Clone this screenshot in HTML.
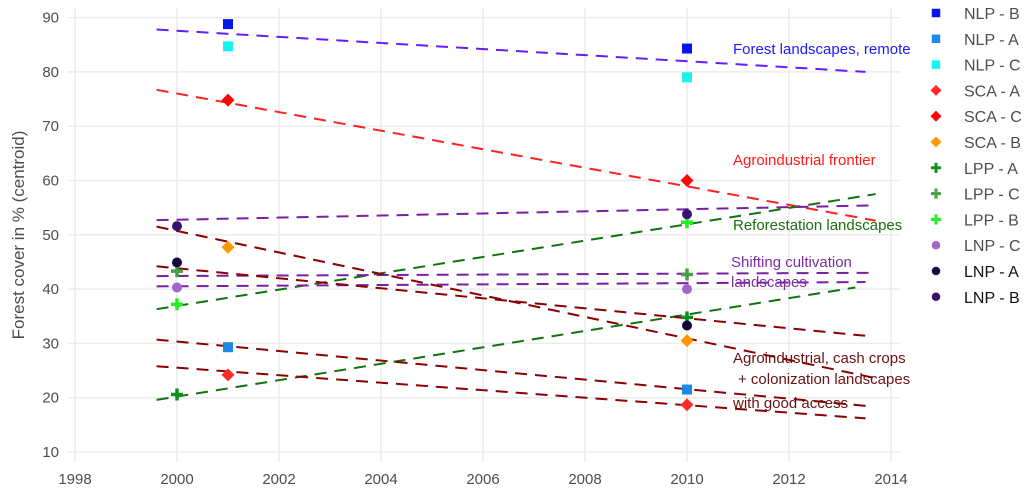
<!DOCTYPE html>
<html><head><meta charset="utf-8"><style>
body{margin:0;background:#fff;}
svg{display:block;font-family:"Liberation Sans",sans-serif;}
</style></head><body>
<svg id="chart" width="1024" height="489"></svg>
<script>
const years=[2000,2001,2010];
const seriesNames=["NLP - B","NLP - A","NLP - C","SCA - A","SCA - C","SCA - B","LPP - A","LPP - C","LPP - B","LNP - C","LNP - A","LNP - B"];
const seriesColors=["#0a14f0","#1e88e5","#19f0f0","#ff2a2a","#ff0505","#ff9800","#0f8f1e","#43a047","#22ee22","#a266c8","#16063d","#3c0f6e"];
const seriesShapes=["sq","sq","sq","di","di","di","pl","pl","pl","ci","ci","ci"];
const pointYear=[2001,2001,2001,2001,2001,2001,2000,2000,2000,2000,2000,2000];
const valuesStart=[88.8,29.3,84.7,24.2,74.8,47.7,20.6,43.3,37.2,40.3,44.9,51.6];
const valuesEnd=[84.3,21.5,79.0,18.7,60.0,30.5,34.8,42.7,52.3,40.0,33.3,53.8];
const trendX0=[1999.6,1999.6,1999.6,1999.6,1999.6,1999.6,1999.6,1999.6,1999.6,1999.6];
const trendX1=[2013.5,2013.7,2013.7,2013.3,2013.6,2013.6,2013.5,2013.7,2013.5,2013.5];
const trendY0=[87.8,76.7,36.3,19.6,52.7,42.4,40.5,51.5,44.2,30.7];
const trendY1=[80.0,52.6,57.5,40.3,55.4,43.0,41.3,23.6,31.4,18.5];
const trendColors=["#6a1aff","#ff2020","#13720f","#13720f","#7a1fa2","#7a1fa2","#7a1fa2","#8b0000","#8b0000","#8b0000"];
const trendY0b=[25.8];const trendY1b=[16.2];
const xTicks=[1998,2000,2002,2004,2006,2008,2010,2012,2014];
const yTicks=[10,20,30,40,50,60,70,80,90];
const labels=["Forest landscapes, remote","Agroindustrial frontier","Reforestation landscapes","Shifting cultivation","landscapes","Agroindustrial, cash crops","+ colonization landscapes","with good access"];
const labelColors=["#1a1aff","#ff1a1a","#1b6e10","#7b2d9e","#7b2d9e","#6b1212","#6b1212","#6b1212"];
const labelPos=[[733,54],[733,165],[733,230],[731,267],[731,287],[733,363],[738,384],[733,408]];

const X=y=>177+51*(y-2000);
const Y=v=>452-(v-10)*5.43;
const svg=document.getElementById('chart');
const NS='http://www.w3.org/2000/svg';
function mk(t,a,p){const e=document.createElementNS(NS,t);for(const k in a)e.setAttribute(k,a[k]);(p||svg).appendChild(e);return e;}

xTicks.forEach(t=>{
 const l=mk('line',{x1:X(t),x2:X(t),y1:8,y2:462,stroke:'#ebebeb','stroke-width':1.5});
 
 
 const tx=mk('text',{x:X(t),y:484,'text-anchor':'middle','font-size':15,fill:'#4d4d4d'});tx.textContent=t;
 
 
});
yTicks.forEach(t=>{
 const l=mk('line',{x1:68,x2:900,y1:Y(t),y2:Y(t),stroke:'#ebebeb','stroke-width':1.5});
 
 
 const tx=mk('text',{x:59,y:Y(t)+5,'text-anchor':'end','font-size':15,fill:'#4d4d4d'});tx.textContent=t;
 
 
});
const yt=mk('text',{x:0,y:0,transform:'translate(24,235) rotate(-90)','text-anchor':'middle','font-size':17,fill:'#4d4d4d'});
yt.textContent='Forest cover in % (centroid)';



function trend(x0,x1,y0,y1,c){
 const l=mk('line',{x1:X(x0),x2:X(x1),y1:Y(y0),y2:Y(y1),stroke:c,'stroke-width':2,'stroke-dasharray':'12 8'});
 
 
}
trendY0.forEach((v,i)=>trend(trendX0[i],trendX1[i],v,trendY1[i],trendColors[i]));
trend(1999.6,2013.5,trendY0b[0],trendY1b[0],'#8b0000');

function marker(shape,cx,cy,c,s){
 let e;
 if(shape==='sq')e=mk('rect',{x:cx-5*s,y:cy-5*s,width:10*s,height:10*s,fill:c});
 else if(shape==='di')e=mk('polygon',{points:`${cx},${cy-6.5*s} ${cx+6.5*s},${cy} ${cx},${cy+6.5*s} ${cx-6.5*s},${cy}`,fill:c});
 else if(shape==='ci')e=mk('circle',{cx:cx,cy:cy,r:5*s,fill:c});
 else e=mk('path',{d:`M${cx-6*s},${cy}H${cx+6*s}M${cx},${cy-6*s}V${cy+6*s}`,stroke:c,'stroke-width':3.5*s});
 return e;
}
seriesNames.forEach((n,i)=>{
 const a=marker(seriesShapes[i],X(pointYear[i]),Y(valuesStart[i]),seriesColors[i],1);
 
 
 const b=marker(seriesShapes[i],X(years[2]),Y(valuesEnd[i]),seriesColors[i],1);
 
 
 const ly=13+i*25.8;
 const m=marker(seriesShapes[i],936,ly,seriesColors[i],0.85);
 
 
 const t=mk('text',{x:964,y:ly+6,'font-size':16,fill:i>=10?'#111':'#4d4d4d'});t.textContent=n;
 
 
});
labels.forEach((s,i)=>{
 const t=mk('text',{x:labelPos[i][0],y:labelPos[i][1],'font-size':15,fill:labelColors[i]});t.textContent=s;
 
 
});
</script>
</body></html>
